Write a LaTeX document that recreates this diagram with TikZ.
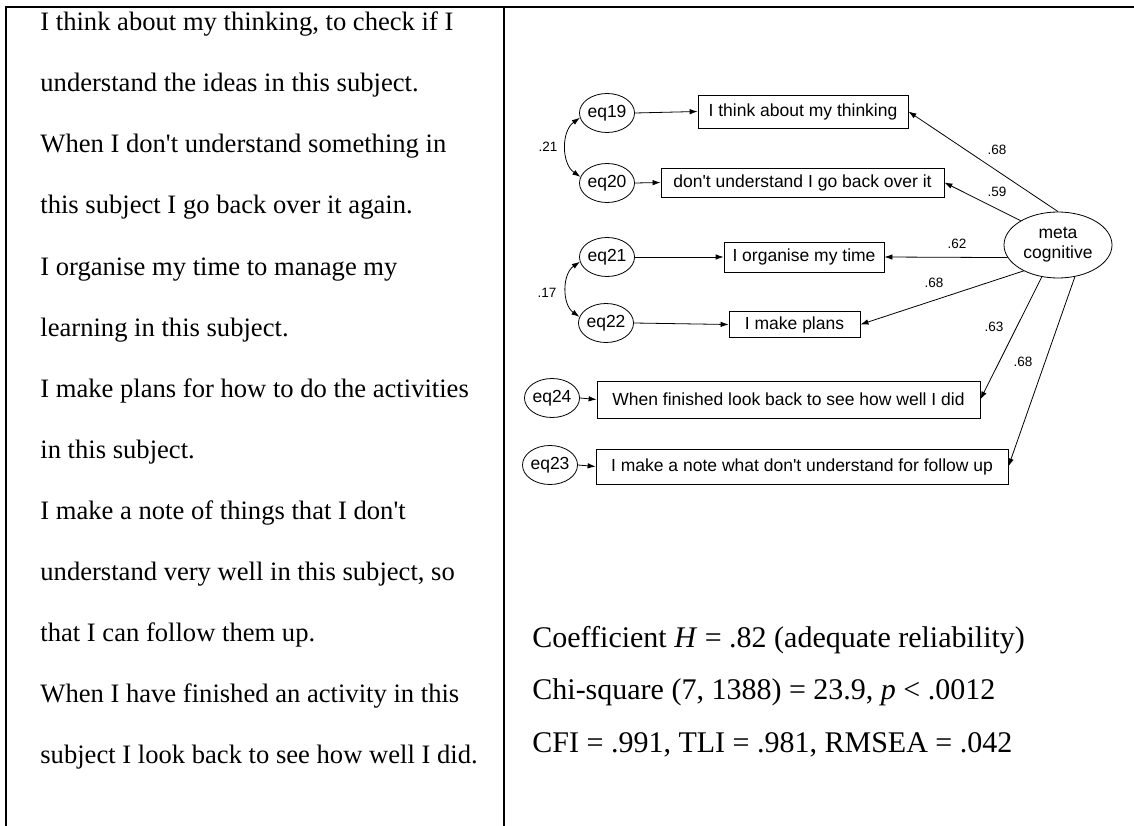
\documentclass[tikz,border=0pt]{standalone}
\usepackage{fontspec}
\setmainfont{Liberation Serif}[Ligatures=TeXOff]
\setsansfont{Liberation Sans}[Ligatures=TeXOff]
\usetikzlibrary{arrows.meta}
\usetikzlibrary{shapes.geometric}
\newcommand{\dgfont}{\sffamily\fontsize{17.5}{20}\selectfont}

\tikzset{
  item/.style={draw, rectangle, inner sep=0pt, font=\dgfont},
  err/.style={draw, ellipse, inner sep=0pt, minimum width=43pt, minimum height=39pt, font=\dgfont},
  coef/.style={inner sep=0pt, font=\sffamily\fontsize{13.5}{16}\selectfont},
  rowtext/.style={anchor=base west, inner sep=0pt, font=\fontsize{26.6}{30}\selectfont},
  fittext/.style={anchor=base west, inner sep=0pt, font=\fontsize{30}{34}\selectfont}
}

\begin{document}
\begin{tikzpicture}[x=1pt, y=-1pt, ->, >={Latex[length=8pt,width=5.5pt]}, line width=0.8pt]
    \useasboundingbox (0,0) rectangle (1134,826);
    % table rules
    \draw[-, line width=2pt] (6,826) -- (6,7.5) -- (1134,7.5);
    \draw[-, line width=2pt] (504,7.5) -- (504,826);

    % item wordings
    \foreach \txt [count=\i] in {
      {I think about my thinking, to check if I},
      {understand the ideas in this subject.},
      {When I don't understand something in},
      {this subject I go back over it again.},
      {I organise my time to manage my},
      {learning in this subject.},
      {I make plans for how to do the activities},
      {in this subject.},
      {I make a note of things that I don't},
      {understand very well in this subject, so},
      {that I can follow them up.},
      {When I have finished an activity in this},
      {subject I look back to see how well I did.}}
      \node[rowtext] (line\i) at (40,{31+61*(\i-1)}) {\txt};

    \node[fittext] (coefH) at (532,647) {Coefficient \textit{H} = .82 (adequate reliability)};
    \node[fittext] (chisq) at (532,699.5) {Chi-square (7, 1388) = 23.9, \textit{p} < .0012};
    \node[fittext] (fitidx) at (532,752) {CFI = .991, TLI = .981, RMSEA = .042};

    % measurement model
    \node[err] (eq19) at (607,113) {eq19};
    \node[err] (eq20) at (607,183) {eq20};
    \node[err] (eq21) at (607,257) {eq21};
    \node[err] (eq22) at (606,323) {eq22};
    \node[err] (eq24) at (552,398) {eq24};
    \node[err] (eq23) at (550,465) {eq23};

    \node[item, minimum width=210pt, minimum height=33pt] (think) at (803,111.5) {I think about my thinking};
    \node[item, minimum width=283pt, minimum height=29pt] (dontund) at (802.5,182.5) {don't understand I go back over it};
    \node[item, minimum width=160pt, minimum height=30pt] (organise) at (804,257) {I organise my time};
    \node[item, minimum width=131pt, minimum height=26pt] (plans) at (794.5,324.5) {I make plans};
    \node[item, minimum width=383pt, minimum height=37pt] (finished) at (788.5,399.5) {When finished look back to see how well I did};
    \node[item, minimum width=412pt, minimum height=35pt] (note) at (802,466.5) {I make a note what don't understand for follow up};

    \node[draw, ellipse, inner sep=0pt, minimum width=108pt, minimum height=66pt, align=center, font=\dgfont] (meta) at (1058,245) {meta\\cognitive};

    \path (eq19.east) edge (think.west);
    \path (eq20.east) edge (dontund.west);
    \path (eq21.east) edge (organise.west);
    \path (eq22.east) edge (plans.west);
    \path (eq24.east) edge (finished.west);
    \path (eq23.east) edge (note.west);

    \path (meta.north) edge (think.east);
    \path (meta.147) edge (dontund.east);
    \path (meta.194) edge (organise.east);
    \path (meta.217) edge (plans.east);
    \path (meta.243) edge (finished.east);
    \path (meta.298) edge (note.east);

    \path (eq19.190) edge[<->, bend right=55] (eq20.167);
    \path (eq21.190) edge[<->, bend right=55] (eq22.167);

    \node[coef] (c21) at (548,147) {.21};
    \node[coef] (c17) at (547,293) {.17};
    \node[coef] (l68a) at (997,150) {.68};
    \node[coef] (l59) at (997,192) {.59};
    \node[coef] (l62) at (957,244) {.62};
    \node[coef] (l68b) at (934,283) {.68};
    \node[coef] (l63) at (994,327) {.63};
    \node[coef] (l68c) at (1023,362) {.68};
  \end{tikzpicture}
\end{document}
